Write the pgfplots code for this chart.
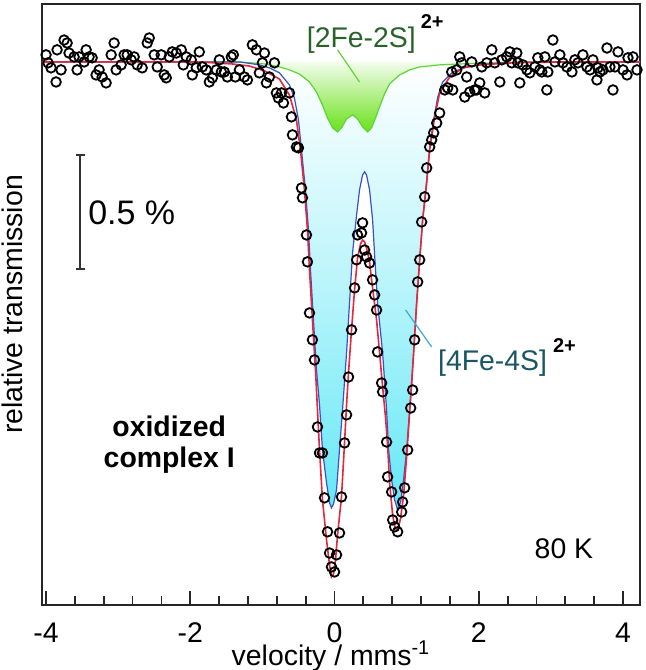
\documentclass[border=0pt]{standalone}
\usepackage{pgfplots}
\pgfplotsset{compat=1.18}
\usepackage{fontspec}
\setmainfont{Liberation Sans}
\definecolor{bluefill}{RGB}{100,232,246}
\definecolor{greenfill}{RGB}{105,225,25}
\definecolor{greenline}{RGB}{95,212,55}
\definecolor{blueline}{RGB}{60,80,200}
\definecolor{redline}{RGB}{225,40,60}
\definecolor{dkgreen}{RGB}{40,100,40}
\definecolor{dkteal}{RGB}{25,85,100}
\definecolor{pointer}{RGB}{60,170,210}
\begin{document}
\begin{tikzpicture}[font=\fontsize{14.2}{17}\selectfont]
\begin{axis}[
  scale only axis, width=299pt, height=300.5pt,
  xmin=-4.056, xmax=4.236, ymin=97.618, ymax=100.254,
  axis line style={line width=1.4pt, black!85},
  xtick={-4,-2,0,2,4}, xticklabels={-4,-2,0,2,4},
  minor x tick num=4,
  ytick=\empty,
  tick align=inside, tick pos=left,
  major tick length=7pt, minor tick length=4.5pt,
  every tick/.style={line width=0.9pt, black!85},
  xticklabel style={yshift=-5.5pt},
  xlabel={velocity / mms\textsuperscript{-1}},
  xlabel style={at={(axis description cs:0.5,0)}, anchor=north, yshift=-15.8pt, xshift=-5pt, inner sep=2pt},
  ylabel={relative transmission},
  ylabel style={at={(axis description cs:-0.032,0.5)}, anchor=south, inner sep=0pt},
]
% [4Fe-4S] component fill
\addplot[draw=none, top color=white, bottom color=bluefill, middle color=bluefill!45] coordinates {
(-4.056,100) (-1.319,100) (-1.042,99.987) (-0.903,99.974) (-0.764,99.952) (-0.625,99.899)
(-0.556,99.842) (-0.500,99.746) (-0.458,99.614) (-0.403,99.439) (-0.361,99.263) (-0.333,99.088)
(-0.292,98.868) (-0.250,98.649) (-0.208,98.496) (-0.167,98.298) (-0.111,98.154) (-0.069,98.066)
(-0.042,98.044) (-0.014,98.061) (0.028,98.123) (0.069,98.298) (0.111,98.474) (0.167,98.724)
(0.208,98.943) (0.250,99.162) (0.306,99.329) (0.347,99.439) (0.389,99.504) (0.417,99.518)
(0.444,99.504) (0.486,99.439) (0.528,99.307) (0.556,99.154) (0.597,98.943) (0.667,98.724)
(0.722,98.474) (0.750,98.298) (0.792,98.167) (0.833,98.079) (0.875,98.035) (0.917,98.070)
(0.958,98.167) (1.000,98.298) (1.042,98.474) (1.097,98.724) (1.139,98.943) (1.181,99.132)
(1.222,99.307) (1.278,99.482) (1.319,99.623) (1.375,99.746) (1.431,99.846) (1.500,99.912)
(1.639,99.956) (1.875,99.982) (2.292,99.996) (2.986,100) (4.236,100)
} -- cycle;
% [2Fe-2S] component fill
\addplot[draw=none, top color=greenfill!8, bottom color=greenfill] coordinates {
(-4.056,100) (-1.319,100) (-0.972,99.991) (-0.764,99.978) (-0.625,99.965) (-0.486,99.947)
(-0.347,99.912) (-0.250,99.868) (-0.167,99.811) (-0.097,99.754) (-0.028,99.711) (0.042,99.693)
(0.097,99.711) (0.167,99.750) (0.250,99.768) (0.319,99.750) (0.389,99.715) (0.458,99.693)
(0.514,99.711) (0.569,99.754) (0.625,99.803) (0.694,99.860) (0.764,99.904) (0.903,99.943)
(1.042,99.965) (1.181,99.978) (1.458,99.987) (1.736,99.991) (2.292,99.996) (2.986,100) (4.236,100)
} -- cycle;
% [2Fe-2S] line
\addplot[greenline, line width=0.6pt] coordinates {
(-4.056,100) (-1.319,100) (-0.972,99.991) (-0.764,99.978) (-0.625,99.965) (-0.486,99.947)
(-0.347,99.912) (-0.250,99.868) (-0.167,99.811) (-0.097,99.754) (-0.028,99.711) (0.042,99.693)
(0.097,99.711) (0.167,99.750) (0.250,99.768) (0.319,99.750) (0.389,99.715) (0.458,99.693)
(0.514,99.711) (0.569,99.754) (0.625,99.803) (0.694,99.860) (0.764,99.904) (0.903,99.943)
(1.042,99.965) (1.181,99.978) (1.458,99.987) (1.736,99.991) (2.292,99.996) (2.986,100) (4.236,100)
};
% [4Fe-4S] line
\addplot[blueline, line width=0.6pt] coordinates {
(-4.056,100) (-1.319,100) (-1.042,99.987) (-0.903,99.974) (-0.764,99.952) (-0.625,99.899)
(-0.556,99.842) (-0.500,99.746) (-0.458,99.614) (-0.403,99.439) (-0.361,99.263) (-0.333,99.088)
(-0.292,98.868) (-0.250,98.649) (-0.208,98.496) (-0.167,98.298) (-0.111,98.154) (-0.069,98.066)
(-0.042,98.044) (-0.014,98.061) (0.028,98.123) (0.069,98.298) (0.111,98.474) (0.167,98.724)
(0.208,98.943) (0.250,99.162) (0.306,99.329) (0.347,99.439) (0.389,99.504) (0.417,99.518)
(0.444,99.504) (0.486,99.439) (0.528,99.307) (0.556,99.154) (0.597,98.943) (0.667,98.724)
(0.722,98.474) (0.750,98.298) (0.792,98.167) (0.833,98.079) (0.875,98.035) (0.917,98.070)
(0.958,98.167) (1.000,98.298) (1.042,98.474) (1.097,98.724) (1.139,98.943) (1.181,99.132)
(1.222,99.307) (1.278,99.482) (1.319,99.623) (1.375,99.746) (1.431,99.846) (1.500,99.912)
(1.639,99.956) (1.875,99.982) (2.292,99.996) (2.986,100) (4.236,100)
};
% total fit
\addplot[redline, line width=0.8pt] coordinates {
(-4.056,100) (-1.875,100) (-1.417,99.991) (-1.181,99.982) (-0.972,99.961) (-0.764,99.925)
(-0.625,99.855) (-0.528,99.746) (-0.472,99.614) (-0.417,99.439) (-0.375,99.263) (-0.347,99.088)
(-0.306,98.868) (-0.264,98.649) (-0.236,98.474) (-0.208,98.298) (-0.167,98.079) (-0.111,97.904)
(-0.069,97.794) (-0.042,97.741) (-0.014,97.754) (0.014,97.816) (0.042,97.925) (0.097,98.092)
(0.139,98.329) (0.167,98.496) (0.194,98.636) (0.236,98.825) (0.278,99.000) (0.319,99.140)
(0.361,99.202) (0.389,99.219) (0.417,99.211) (0.444,99.184) (0.486,99.123) (0.514,99.044)
(0.583,98.868) (0.625,98.724) (0.667,98.575) (0.708,98.439) (0.736,98.320) (0.764,98.154)
(0.806,98.013) (0.833,97.965) (0.861,97.947) (0.889,97.961) (0.917,98.000) (0.958,98.101)
(1.000,98.268) (1.042,98.465) (1.069,98.583) (1.097,98.724) (1.139,98.943) (1.181,99.132)
(1.222,99.307) (1.278,99.469) (1.319,99.614) (1.389,99.759) (1.458,99.864) (1.597,99.934)
(1.778,99.974) (2.014,99.987) (2.472,99.996) (3.167,100) (4.236,100)
};
% measured spectrum
\addplot[only marks, mark=o, mark size=2.4pt, mark options={line width=0.9pt, black}] coordinates {
(-4.000,100.031) (-3.972,99.996) (-3.931,99.974) (-3.861,99.912) (-3.847,100.053) (-3.792,99.965)
(-3.750,100.096) (-3.708,100.083) (-3.681,100.039) (-3.611,100.022) (-3.569,99.965) (-3.542,100.022)
(-3.472,100.000) (-3.444,100.053) (-3.403,100.022) (-3.361,100.018) (-3.306,99.943) (-3.264,99.965)
(-3.222,99.934) (-3.167,99.908) (-3.097,100.031) (-3.056,100.083) (-3.028,99.965) (-2.958,99.987)
(-2.917,100.031) (-2.875,100.031) (-2.819,100.009) (-2.778,100.022) (-2.736,99.987) (-2.667,99.974)
(-2.597,100.083) (-2.569,100.105) (-2.500,100.031) (-2.458,99.978) (-2.403,100.031) (-2.361,99.943)
(-2.333,99.930) (-2.292,100.022) (-2.250,100.044) (-2.194,100.039) (-2.125,100.053) (-2.097,99.987)
(-2.056,100.022) (-1.986,100.009) (-1.972,99.943) (-1.917,99.974) (-1.875,100.044) (-1.833,99.978)
(-1.778,99.965) (-1.736,99.912) (-1.694,99.930) (-1.639,99.965) (-1.597,100.009) (-1.569,99.956)
(-1.528,99.956) (-1.486,99.934) (-1.431,100.022) (-1.403,100.031) (-1.375,99.934) (-1.319,99.965)
(-1.250,99.934) (-1.208,99.921) (-1.139,100.075) (-1.083,100.053) (-1.042,99.952) (-1.000,99.996)
(-0.972,100.039) (-0.944,99.908) (-0.903,99.934) (-0.833,99.996) (-0.806,99.864) (-0.778,99.842)
(-0.736,99.864) (-0.708,99.820) (-0.625,99.864) (-0.597,99.759) (-0.583,99.680) (-0.528,99.627)
(-0.500,99.623) (-0.458,99.447) (-0.444,99.404) (-0.389,99.241) (-0.375,99.123) (-0.347,98.899)
(-0.306,98.781) (-0.278,98.693) (-0.236,98.399) (-0.208,98.285) (-0.167,98.285) (-0.139,98.088)
(-0.097,97.939) (-0.069,97.846) (-0.042,97.785) (0.000,97.763) (0.028,97.838) (0.069,97.934)
(0.097,98.092) (0.139,98.329) (0.167,98.452) (0.194,98.618) (0.236,98.825) (0.278,99.009)
(0.306,99.132) (0.319,99.241) (0.375,99.250) (0.389,99.294) (0.417,99.175) (0.444,99.145)
(0.486,99.118) (0.528,99.044) (0.556,98.978) (0.583,98.912) (0.597,98.728) (0.653,98.592)
(0.667,98.553) (0.722,98.333) (0.736,98.180) (0.792,98.114) (0.806,97.991) (0.833,97.961)
(0.875,97.939) (0.931,98.026) (0.944,98.070) (0.972,98.132) (1.014,98.298) (1.056,98.482)
(1.083,98.561) (1.111,98.781) (1.153,99.035) (1.181,99.132) (1.208,99.298) (1.250,99.408)
(1.278,99.535) (1.319,99.627) (1.347,99.658) (1.375,99.689) (1.417,99.732) (1.458,99.776)
(1.528,99.877) (1.569,99.886) (1.625,99.956) (1.639,99.877) (1.694,99.965) (1.736,100.022)
(1.764,99.996) (1.806,99.846) (1.833,99.934) (1.875,99.868) (1.903,100.000) (1.944,99.877)
(1.972,99.877) (2.014,99.908) (2.042,99.978) (2.083,99.864) (2.111,99.996) (2.181,100.053)
(2.222,99.996) (2.292,99.912) (2.319,100.009) (2.389,100.022) (2.431,100.044) (2.458,99.996)
(2.528,100.039) (2.542,99.996) (2.569,99.908) (2.611,99.987) (2.667,99.965) (2.708,99.952)
(2.778,99.978) (2.819,100.018) (2.847,99.965) (2.875,99.956) (2.917,100.022) (2.944,99.877)
(2.958,99.956) (3.028,100.096) (3.056,100.000) (3.125,100.031) (3.167,99.996) (3.222,99.978)
(3.292,99.956) (3.333,100.009) (3.375,99.996) (3.444,100.031) (3.500,99.978) (3.542,99.965)
(3.583,100.009) (3.639,99.921) (3.653,99.974) (3.681,99.956) (3.722,99.965) (3.778,100.061)
(3.819,99.978) (3.861,99.877) (3.889,99.978) (3.931,100.044) (4.000,99.965) (4.056,99.943)
(4.069,100.018) (4.139,100.022) (4.194,99.965)
};
% scale bar
\draw[line width=1pt, black!80] (axis cs:-3.528,99.592) -- (axis cs:-3.528,99.092);
\draw[line width=1pt, black!80] (axis cs:-3.590,99.592) -- (axis cs:-3.466,99.592);
\draw[line width=1pt, black!80] (axis cs:-3.590,99.092) -- (axis cs:-3.466,99.092);
\node[anchor=west, inner sep=0pt, font=\fontsize{17}{20}\selectfont] at (axis cs:-3.42,99.338) {0.5 \%};
% labels
\node[align=center, font=\fontsize{14.2}{15.5}\selectfont\bfseries, inner sep=0pt] at (axis cs:-2.292,98.320) {oxidized\\complex I};
\node[inner sep=0pt] at (axis cs:3.181,97.864) {80 K};
\draw[greenline, line width=0.6pt] (axis cs:0.042,100.053) -- (axis cs:0.347,99.912);
\draw[pointer, line width=0.6pt] (axis cs:0.986,98.912) -- (axis cs:1.347,98.750);
\node[anchor=west, inner sep=0pt] at (axis cs:-0.389,100.123) {\textcolor{dkgreen}{[2Fe-2S]}\hspace{2.5pt}\raisebox{9.5pt}{\fontsize{10}{12}\selectfont\bfseries 2+}};
\node[anchor=west, inner sep=0pt] at (axis cs:1.431,98.702) {\textcolor{dkteal}{[4Fe-4S]}\hspace{3pt}\raisebox{9pt}{\fontsize{10}{12}\selectfont\bfseries 2+}};
\end{axis}
\pgfresetboundingbox
\path (-21pt,-32.5pt) rectangle (302pt,302.5pt);
\end{tikzpicture}
\end{document}
